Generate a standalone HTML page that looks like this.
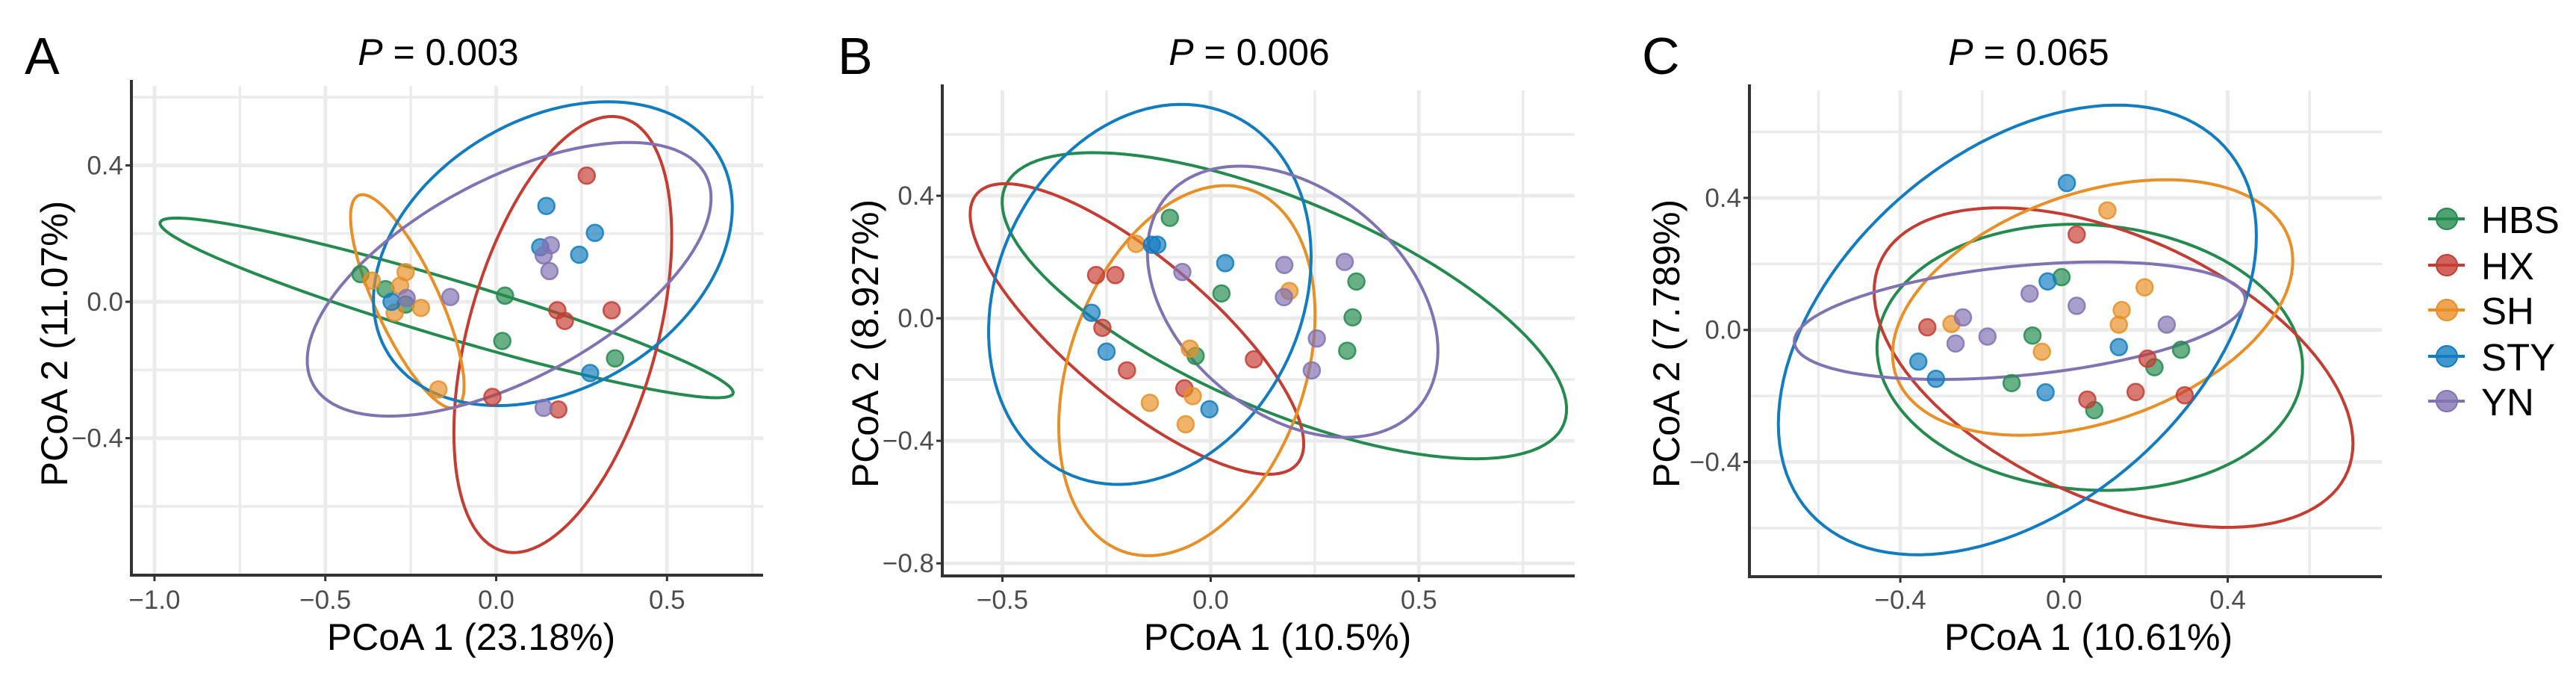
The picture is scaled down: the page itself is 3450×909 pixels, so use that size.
<!DOCTYPE html>
<html><head><meta charset="utf-8"><style>
html,body{margin:0;padding:0;background:#fff;}
svg{display:block;font-family:"Liberation Sans",Arial,sans-serif;}
</style></head><body>
<svg id="fig" width="3450" height="909" viewBox="0 0 3450 909" xmlns="http://www.w3.org/2000/svg"></svg>
<script>
const groups = ["HBS","HX","SH","STY","YN"];
const colors = ["#238b4e","#c43c32","#e88f25","#117cc0","#8172b3"];

const ptsA_HBS = [[-0.397,0.081],[-0.324,0.037],[-0.265,-0.008],[0.026,0.018],[0.018,-0.115],[0.348,-0.166]];
const ptsA_HX  = [[0.265,0.370],[0.179,-0.025],[0.201,-0.056],[0.338,-0.025],[-0.011,-0.279],[0.182,-0.316]];
const ptsA_SH  = [[-0.364,0.062],[-0.265,0.087],[-0.281,0.047],[-0.297,-0.032],[-0.220,-0.018],[-0.169,-0.257]];
const ptsA_STY = [[-0.306,0.0],[0.147,0.281],[0.129,0.160],[0.289,0.202],[0.243,0.138],[0.275,-0.209]];
const ptsA_YN  = [[-0.262,0.011],[-0.134,0.014],[0.160,0.166],[0.139,0.136],[0.156,0.090],[0.139,-0.311]];
// conjugate ellipse: [cx,cy,ux,uy,vx,vy]
const ellA_HBS = [-0.145,-0.018,0.838,-0.252,-0.037,-0.077];
const ellA_HX  = [0.195,-0.096,0.274,-0.044,0.163,0.638];
const ellA_SH  = [-0.260,0.001,0.091,0.025,0.139,-0.312];
const ellA_STY = [0.166,0.141,0.519,0.070,0.080,0.440];
const ellA_YN  = [0.038,0.066,0.559,0.120,0.192,0.383];

const ptsB_HBS = [[-0.098,0.328],[0.026,0.081],[0.350,0.120],[0.341,0.003],[0.328,-0.106],[-0.036,-0.123]];
const ptsB_HX  = [[-0.275,0.141],[-0.229,0.141],[-0.260,-0.031],[-0.201,-0.170],[-0.063,-0.229],[0.104,-0.134]];
const ptsB_SH  = [[-0.179,0.243],[-0.050,-0.099],[-0.043,-0.254],[-0.146,-0.276],[-0.060,-0.346],[0.189,0.089]];
const ptsB_STY = [[-0.286,0.018],[-0.250,-0.109],[-0.141,0.240],[-0.128,0.240],[0.035,0.180],[-0.003,-0.297]];
const ptsB_YN  = [[-0.068,0.151],[0.177,0.174],[0.176,0.069],[0.322,0.184],[0.255,-0.066],[0.243,-0.170]];
const ellB_HBS = [0.177,0.041,0.628,-0.175,-0.255,0.468];
const ellB_HX  = [-0.177,-0.035,0.376,-0.452,0.138,0.144];
const ellB_SH  = [-0.057,-0.171,0.303,0.079,0.054,0.599];
const ellB_STY = [-0.146,0.078,0.384,0.042,0.050,0.619];
const ellB_YN  = [0.197,0.054,0.347,-0.117,-0.036,0.427];

const ptsC_HBS = [[-0.006,0.160],[-0.077,-0.017],[-0.128,-0.161],[0.074,-0.243],[0.221,-0.113],[0.286,-0.060]];
const ptsC_HX  = [[-0.334,0.008],[0.031,0.289],[0.057,-0.211],[0.175,-0.188],[0.204,-0.087],[0.295,-0.198]];
const ptsC_SH  = [[-0.275,0.018],[-0.054,-0.066],[0.106,0.362],[0.197,0.129],[0.141,0.060],[0.134,0.016]];
const ptsC_STY = [[0.007,0.445],[-0.040,0.147],[-0.356,-0.096],[-0.313,-0.148],[-0.045,-0.189],[0.134,-0.052]];
const ptsC_YN  = [[-0.247,0.038],[-0.265,-0.041],[-0.187,-0.020],[-0.084,0.110],[0.031,0.073],[0.251,0.016]];
// bounding ellipse: [cx,cy,halfWidth,halfHeight,topPointXOffset]
const ellC_HBS = [0.063,-0.083,0.520,0.403,-0.038];
const ellC_HX  = [0.121,-0.114,0.585,0.484,-0.278];
const ellC_SH  = [0.070,0.068,0.489,0.387,0.179];
const ellC_STY = [-0.114,0.000,0.584,0.681,0.244];
const ellC_YN  = [-0.108,0.028,0.551,0.178,0.195];

const xTicksA = [-1.0,-0.5,0.0,0.5], xMinorA = [-0.75,-0.25,0.25,0.75];
const yTicksA = [-0.4,0.0,0.4], yMinorA = [-0.6,-0.2,0.2,0.6];
const xTicksB = [-0.5,0.0,0.5], xMinorB = [-0.25,0.25,0.75];
const yTicksB = [-0.8,-0.4,0.0,0.4], yMinorB = [-0.6,-0.2,0.2,0.6];
const xTicksC = [-0.4,0.0,0.4], xMinorC = [-0.6,-0.2,0.2,0.6];
const yTicksC = [-0.4,0.0,0.4], yMinorC = [-0.6,-0.2,0.2,0.6];

const NS="http://www.w3.org/2000/svg";
const svg=document.getElementById('fig');
function mk(tag,attrs,parent){const e=document.createElementNS(NS,tag);for(const k in attrs)e.setAttribute(k,attrs[k]);(parent||svg).appendChild(e);return e;}
function toConj(e){
 if(e.length===6)return e;
 const hw=e[2],hh=e[3],sxy=e[4]*hh;
 const uy=sxy/hw;
 const vy=Math.sqrt(Math.max(hh*hh-uy*uy,0.0001));
 return [e[0],e[1],hw,uy,0,vy];
}

const panels=[
 {id:"a",letter:"A",lx:33,title:"0.003",tx:587,xlab:"PCoA 1 (23.18%)",xlx:631,ylab:"PCoA 2 (11.07%)",ylx:90,
  L:176,R:1022,T:107,B:770,x0:664.5,xs:457.6,y0:404,ys:456.5,
  xt:xTicksA,xm:xMinorA,yt:yTicksA,ym:yMinorA,
  pts:[ptsA_HBS,ptsA_HX,ptsA_SH,ptsA_STY,ptsA_YN],ell:[ellA_HBS,ellA_HX,ellA_SH,ellA_STY,ellA_YN]},
 {id:"b",letter:"B",lx:1122,title:"0.006",tx:1673,xlab:"PCoA 1 (10.5%)",xlx:1711,ylab:"PCoA 2 (8.927%)",ylx:1176,
  L:1262,R:2109,T:113,B:771,x0:1621.4,xs:557.7,y0:426.1,ys:410.1,
  xt:xTicksB,xm:xMinorB,yt:yTicksB,ym:yMinorB,
  pts:[ptsB_HBS,ptsB_HX,ptsB_SH,ptsB_STY,ptsB_YN],ell:[ellB_HBS,ellB_HX,ellB_SH,ellB_STY,ellB_YN]},
 {id:"c",letter:"C",lx:2199,title:"0.065",tx:2717,xlab:"PCoA 1 (10.61%)",xlx:2797,ylab:"PCoA 2 (7.789%)",ylx:2249,
  L:2343,R:3190,T:113,B:772,x0:2764.3,xs:548.1,y0:441.7,ys:442,
  xt:xTicksC,xm:xMinorC,yt:yTicksC,ym:yMinorC,
  pts:[ptsC_HBS,ptsC_HX,ptsC_SH,ptsC_STY,ptsC_YN],ell:[ellC_HBS,ellC_HX,ellC_SH,ellC_STY,ellC_YN]}
];

panels.forEach(p=>{
 const X=v=>p.x0+v*p.xs, Y=v=>p.y0-v*p.ys;
 const g=mk('g',{});
 
 
 const grid=mk('g',{},g);
 
 
 p.xm.forEach(v=>{const l=mk('line',{x1:X(v),x2:X(v),y1:p.T+8,y2:p.B,stroke:'#ebebeb','stroke-width':3.5},grid);});
 p.ym.forEach(v=>{const l=mk('line',{x1:p.L,x2:p.R,y1:Y(v),y2:Y(v),stroke:'#ebebeb','stroke-width':3.5},grid);});
 p.xt.forEach(v=>{const l=mk('line',{x1:X(v),x2:X(v),y1:p.T+8,y2:p.B,stroke:'#ebebeb','stroke-width':5},grid);});
 p.yt.forEach(v=>{const l=mk('line',{x1:p.L,x2:p.R,y1:Y(v),y2:Y(v),stroke:'#ebebeb','stroke-width':5},grid);});
 p.ell.forEach((e0,gi)=>{
  const e=toConj(e0);
  let d='';
  for(let i=0;i<=120;i++){const t=i/120*2*Math.PI;const vx=e[0]+e[2]*Math.cos(t)+e[4]*Math.sin(t);const vy=e[1]+e[3]*Math.cos(t)+e[5]*Math.sin(t);d+=(i?'L':'M')+X(vx).toFixed(1)+','+Y(vy).toFixed(1);}
  const el=mk('path',{d:d+'Z',fill:'none',stroke:colors[gi],'stroke-width':4},g);
  
  
 });
 p.pts.forEach((arr,gi)=>{
  arr.forEach(pt=>{
   const c=mk('circle',{cx:X(pt[0]),cy:Y(pt[1]),r:11,fill:colors[gi],'fill-opacity':0.68,stroke:colors[gi],'stroke-width':2.5,'stroke-opacity':0.85},g);
   
   
  });
 });
 const ax=mk('path',{d:`M${p.L},${p.T}L${p.L},${p.B}L${p.R},${p.B}`,fill:'none',stroke:'#333','stroke-width':4},g);
 
 
 p.xt.forEach(v=>{
  mk('line',{x1:X(v),x2:X(v),y1:p.B,y2:p.B+8,stroke:'#333','stroke-width':3},g);
  const t=mk('text',{x:X(v),y:815,'text-anchor':'middle','font-size':35,fill:'#4d4d4d'},g);
  t.textContent=(v<0?'\u2212':'')+Math.abs(v).toFixed(1);
  
  
 });
 p.yt.forEach(v=>{
  mk('line',{x1:p.L-8,x2:p.L,y1:Y(v),y2:Y(v),stroke:'#333','stroke-width':3},g);
  const t=mk('text',{x:p.L-11,y:Y(v)+12,'text-anchor':'end','font-size':35,fill:'#4d4d4d'},g);
  t.textContent=(v<0?'\u2212':'')+Math.abs(v).toFixed(1);
  
  
 });
 const xl=mk('text',{x:p.xlx,y:870,'text-anchor':'middle','font-size':50,fill:'#000'},g);
 xl.textContent=p.xlab;
 
 
 const yl=mk('text',{x:0,y:0,transform:`translate(${p.ylx},460) rotate(-90)`,'text-anchor':'middle','font-size':50,fill:'#000'},g);
 yl.textContent=p.ylab;
 
 
 const tt=mk('text',{x:p.tx,y:87,'text-anchor':'middle','font-size':50,fill:'#000'},g);
 tt.innerHTML='<tspan font-style="italic">P</tspan> = '+p.title;
 
 
 const lt=mk('text',{x:p.lx,y:99,'font-size':70,fill:'#000'},g);
 lt.textContent=p.letter;
 
 
});

const legY=[293,355,415,477,537];
const lg=mk('g',{});


groups.forEach((gname,i)=>{
 const it=mk('g',{},lg);
 
 
 mk('line',{x1:3252,x2:3301,y1:legY[i],y2:legY[i],stroke:colors[i],'stroke-width':4},it);
 mk('circle',{cx:3277,cy:legY[i],r:14,fill:colors[i],'fill-opacity':0.8,stroke:colors[i],'stroke-width':2},it);
 const t=mk('text',{x:3323,y:legY[i]+19,'font-size':51,fill:'#000'},it);
 t.textContent=gname;
});
</script>
</body></html>
